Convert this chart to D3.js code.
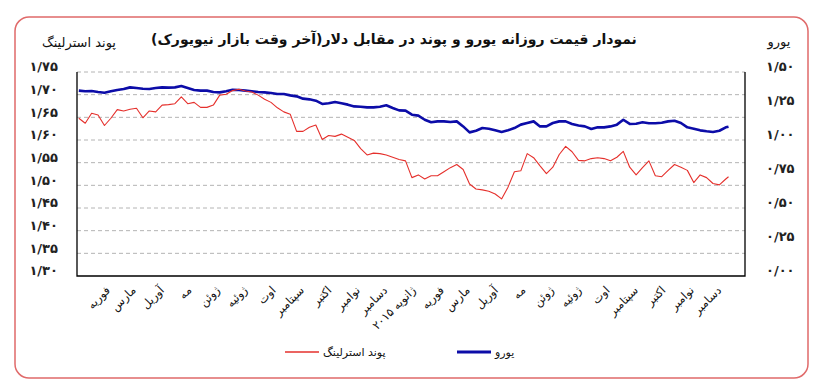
<!DOCTYPE html>
<html lang="fa">
<head>
<meta charset="UTF-8">
<title>Euro / Pound</title>
<style>
  body { margin: 0; background: #fff; }
  svg text { font-family: "DejaVu Sans", sans-serif; fill: #111; }
</style>
</head>
<body>
<svg id="chart" width="834" height="386"></svg>
<script src="https://cdnjs.cloudflare.com/ajax/libs/d3/7.8.5/d3.min.js"></script>
<script>
// weekly readings (Friday close)
const dates = [
  '2014-01-03','2014-01-10','2014-01-17','2014-01-24','2014-01-31','2014-02-07','2014-02-14','2014-02-21','2014-02-28',
  '2014-03-07','2014-03-14','2014-03-21','2014-03-28','2014-04-04','2014-04-11','2014-04-18','2014-04-25','2014-05-02',
  '2014-05-09','2014-05-16','2014-05-23','2014-05-30','2014-06-06','2014-06-13','2014-06-20','2014-06-27','2014-07-04',
  '2014-07-11','2014-07-18','2014-07-25','2014-08-01','2014-08-08','2014-08-15','2014-08-22','2014-08-29','2014-09-05',
  '2014-09-12','2014-09-19','2014-09-26','2014-10-03','2014-10-10','2014-10-17','2014-10-24','2014-10-31','2014-11-07',
  '2014-11-14','2014-11-21','2014-11-28','2014-12-05','2014-12-12','2014-12-19','2014-12-26','2015-01-02','2015-01-09',
  '2015-01-16','2015-01-23','2015-01-30','2015-02-06','2015-02-13','2015-02-20','2015-02-27','2015-03-06','2015-03-13',
  '2015-03-20','2015-03-27','2015-04-03','2015-04-10','2015-04-17','2015-04-24','2015-05-01','2015-05-08','2015-05-15',
  '2015-05-22','2015-05-29','2015-06-05','2015-06-12','2015-06-19','2015-06-26','2015-07-03','2015-07-10','2015-07-17',
  '2015-07-24','2015-07-31','2015-08-07','2015-08-14','2015-08-21','2015-08-28','2015-09-04','2015-09-11','2015-09-18',
  '2015-09-25','2015-10-02','2015-10-09','2015-10-16','2015-10-23','2015-10-30','2015-11-06','2015-11-13','2015-11-20',
  '2015-11-27','2015-12-04','2015-12-11','2015-12-14'
]

const gbp = [
  1.648,1.637,1.659,1.655,1.632,1.648,1.667,1.664,1.668,1.670,1.649,1.664,1.662,1.677,1.678,1.680,1.695,1.680,
  1.683,1.672,1.672,1.677,1.699,1.701,1.709,1.712,1.708,1.706,1.699,1.690,1.683,1.671,1.662,1.657,1.619,1.619,
  1.628,1.633,1.601,1.610,1.608,1.613,1.606,1.599,1.581,1.567,1.571,1.570,1.567,1.562,1.557,1.554,1.517,1.523,
  1.514,1.521,1.521,1.530,1.539,1.546,1.535,1.503,1.492,1.490,1.487,1.481,1.470,1.496,1.530,1.532,1.570,1.561,
  1.543,1.526,1.540,1.568,1.586,1.574,1.555,1.554,1.559,1.561,1.559,1.554,1.562,1.575,1.540,1.523,1.539,1.554,
  1.521,1.519,1.533,1.546,1.540,1.533,1.506,1.523,1.517,1.504,1.501,1.514,1.519
]

const eur = [
  1.363,1.358,1.360,1.353,1.348,1.358,1.368,1.375,1.387,1.382,1.377,1.375,1.382,1.387,1.385,1.387,1.397,1.382,
  1.368,1.363,1.363,1.353,1.350,1.358,1.370,1.368,1.363,1.358,1.353,1.350,1.346,1.338,1.338,1.328,1.321,1.304,
  1.299,1.289,1.265,1.270,1.279,1.270,1.260,1.247,1.245,1.240,1.240,1.245,1.255,1.235,1.218,1.216,1.186,1.179,
  1.149,1.130,1.137,1.137,1.132,1.137,1.100,1.056,1.068,1.088,1.083,1.071,1.059,1.071,1.088,1.113,1.125,1.137,
  1.100,1.100,1.125,1.137,1.137,1.118,1.106,1.100,1.081,1.093,1.093,1.100,1.113,1.149,1.118,1.120,1.130,1.123,
  1.123,1.127,1.137,1.142,1.125,1.093,1.083,1.071,1.064,1.059,1.068,1.093,1.098
]

const monthLabels = [
  'فوریه','مارس','آوریل','مه','ژوئن','ژوئیه','اوت','سپتامبر','اکتبر','نوامبر','دسامبر','ژانویه ۲۰۱۵',
  'فوریه','مارس','آوریل','مه','ژوئن','ژوئیه','اوت','سپتامبر','اکتبر','نوامبر','دسامبر'
]
const gbpTicks = [1.30, 1.35, 1.40, 1.45, 1.50, 1.55, 1.60, 1.65, 1.70, 1.75]
const eurTicks = [0, 0.25, 0.50, 0.75, 1.00, 1.25, 1.50]

const title = 'نمودار قیمت روزانه  یورو و پوند در مقابل دلار(آخر وقت بازار نیویورک)'
const gbpName = 'پوند استرلینگ'
const eurName = 'یورو'

// persian digits, slash as decimal mark
const faDigits = '۰۱۲۳۴۵۶۷۸۹'
const fa = v => d3.format('.2f')(v).replace('.', '/').replace(/\d/g, c => faDigits[+c])

const svg = d3.select('#chart')
const plot = { left: 77, right: 745, top: 72, bottom: 276 }

const parse = d3.timeParse('%Y-%m-%d')
const rows = dates.map((d, i) => ({ date: parse(d), gbp: gbp[i], eur: eur[i] }))

const x = d3.scaleTime()
  .domain([new Date(2014, 0, 1), new Date(2016, 0, 1)])
  .range([plot.left, plot.right])
const yL = d3.scaleLinear().domain([1.30, 1.75]).range([plot.bottom, plot.top])
const yR = d3.scaleLinear().domain([0, 1.5]).range([plot.bottom, plot.top])

// outer frame
svg.append('rect')
  .attr('x', 15).attr('y', 17).attr('width', 793).attr('height', 361)
  .attr('rx', 14).attr('fill', 'none').attr('stroke', '#e06a6a').attr('stroke-width', 1.5)

// gridlines
svg.append('g')
  .selectAll('line')
  .data(gbpTicks.slice(1))
  .join('line')
  .attr('x1', plot.left).attr('x2', plot.right)
  .attr('y1', d => yL(d)).attr('y2', d => yL(d))
  .attr('stroke', '#b4b4b4').attr('stroke-dasharray', '4,3')

// plot border: left, bottom, right
svg.append('path')
  .attr('d', `M${plot.left},${plot.top}V${plot.bottom}H${plot.right}V${plot.top}`)
  .attr('fill', 'none').attr('stroke', '#000').attr('stroke-width', 1.3)

const tickStyle = sel => sel
  .attr('dy', '-0.1em')
  .style('font-size', '13px').style('font-weight', 'bold').style('letter-spacing', '0.8px')
  .style('font-family', '"DejaVu Sans", sans-serif').style('fill', '#222')

// left axis
const axL = svg.append('g')
  .attr('transform', `translate(58,0)`)
  .call(d3.axisLeft(yL).tickValues(gbpTicks).tickSize(0).tickPadding(0).tickFormat(fa))
axL.select('.domain').remove()
axL.selectAll('text').call(tickStyle)

// right axis
const axR = svg.append('g')
  .attr('transform', `translate(${plot.right},0)`)
  .call(d3.axisRight(yR).tickValues(eurTicks).tickSize(0).tickPadding(21).tickFormat(fa))
axR.select('.domain').remove()
axR.selectAll('text').call(tickStyle)

// bottom axis with slanted month names
const months = d3.timeMonth.range(new Date(2014, 1, 1), new Date(2016, 0, 1))
const axB = svg.append('g')
  .attr('transform', `translate(0,${plot.bottom})`)
  .call(d3.axisBottom(x).tickValues(months).tickSize(0).tickFormat((d, i) => monthLabels[i]))
axB.select('.domain').remove()
axB.selectAll('text')
  .attr('text-anchor', 'end')
  .attr('dy', 0).attr('y', 0)
  .attr('transform', 'translate(5,15) rotate(-45)')
  .style('font-size', '11.5px').style('font-family', '"DejaVu Sans", sans-serif')

// series
const lineG = d3.line().x(d => x(d.date)).y(d => yL(d.gbp))
const lineE = d3.line().x(d => x(d.date)).y(d => yR(d.eur))

svg.append('path').datum(rows)
  .attr('d', lineE).attr('fill', 'none')
  .attr('stroke', '#0c0ca8').attr('stroke-width', 2.6).attr('stroke-linejoin', 'round')

svg.append('path').datum(rows)
  .attr('d', lineG).attr('fill', 'none')
  .attr('stroke', '#e5302c').attr('stroke-width', 1.1).attr('stroke-linejoin', 'round')

// titles
svg.append('text')
  .attr('x', 394).attr('y', 44).attr('text-anchor', 'middle').attr('direction', 'rtl')
  .style('font-size', '14px').style('font-weight', 'bold')
  .text(title)
svg.append('text')
  .attr('x', 79).attr('y', 47).attr('text-anchor', 'middle')
  .style('font-size', '13px').text(gbpName)
svg.append('text')
  .attr('x', 779).attr('y', 46).attr('text-anchor', 'middle')
  .style('font-size', '13px').text(eurName)

// legend
const legend = [
  { name: gbpName, color: '#e5302c', w: 1.3, x: 285 },
  { name: eurName, color: '#0c0ca8', w: 3, x: 457 }
]
const lg = svg.append('g').selectAll('g').data(legend).join('g')
  .attr('transform', d => `translate(${d.x},352)`)
lg.append('line').attr('x1', 0).attr('x2', 34)
  .attr('stroke', d => d.color).attr('stroke-width', d => d.w)
lg.append('text').attr('x', 38).attr('y', 4)
  .style('font-size', '11px').text(d => d.name)
</script>
</body>
</html>
